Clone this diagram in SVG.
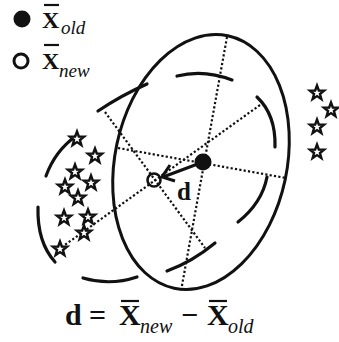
<svg xmlns="http://www.w3.org/2000/svg" xmlns:xlink="http://www.w3.org/1999/xlink" width="339" height="342" viewBox="0 0 339 342">
<style>
.dot{fill:none;stroke:#111;stroke-width:2.2;stroke-dasharray:2.2 2.2}
.arc{fill:none;stroke:#111;stroke-width:3.2;stroke-linecap:round}
.star{fill:#fff;stroke:#111;stroke-width:2.4;stroke-linejoin:miter}
.b{font-family:"Liberation Serif","Times New Roman",serif;font-weight:bold;fill:#111}
.i{font-family:"Liberation Serif","Times New Roman",serif;font-style:italic;fill:#111}
.bar{stroke:#111;stroke-width:2.2}
</style>
<defs>
<path id="st" class="star" d="M0,-7.5 L1.82,-2.51 L7.13,-2.32 L2.95,0.96 L4.41,6.07 L0,3.1 L-4.41,6.07 L-2.95,0.96 L-7.13,-2.32 L-1.82,-2.51 Z"/>
</defs>
<rect width="339" height="342" fill="#fff"/>

<g id="connectors">
<line class="dot" x1="227" y1="37" x2="181" y2="291"/>
<line class="dot" x1="118" y1="148" x2="286" y2="178"/>
<line class="dot" x1="260" y1="105" x2="62" y2="247"/>
<line class="dot" x1="105" y1="112" x2="205" y2="248"/>
</g>

<g id="arcs">
<path class="arc" d="M98,111 Q122,95 147,84"/>
<path class="arc" d="M177,76 Q204,69 232,80"/>
<path class="arc" d="M257,97 Q276,115 275,147"/>
<path class="arc" d="M267,177 Q262,203 238,222"/>
<path class="arc" d="M167,271 Q192,262 215,243"/>
<path class="arc" d="M83,278 Q110,286 137,277"/>
<path class="arc" d="M38,207 Q37,242 55,262"/>
<path class="arc" d="M46,176 Q55,151 76,136"/>
</g>

<g id="ellipse">
<ellipse cx="201" cy="162" rx="86" ry="129" transform="rotate(12 201 162)" fill="none" stroke="#111" stroke-width="3"/>
</g>

<g id="stars-left">
<use xlink:href="#st" x="77" y="139"/>
<use xlink:href="#st" x="95" y="156"/>
<use xlink:href="#st" x="75" y="172"/>
<use xlink:href="#st" x="91" y="183"/>
<use xlink:href="#st" x="65" y="187"/>
<use xlink:href="#st" x="78" y="198"/>
<use xlink:href="#st" x="64" y="218"/>
<use xlink:href="#st" x="88" y="217"/>
<use xlink:href="#st" x="84" y="233"/>
<use xlink:href="#st" x="60" y="249"/>
</g>
<g id="stars-right">
<use xlink:href="#st" x="317" y="93"/>
<use xlink:href="#st" x="331" y="110"/>
<use xlink:href="#st" x="317" y="127"/>
<use xlink:href="#st" x="317" y="152"/>
</g>

<g id="arrow-d">
<line x1="203" y1="162" x2="163" y2="177" stroke="#111" stroke-width="3"/>
<polyline points="170,165 162,177 175,181" fill="none" stroke="#111" stroke-width="3" stroke-linejoin="miter"/>
<text class="b" x="177" y="200" font-size="25">d</text>
</g>

<g id="old-mean"><circle cx="203" cy="162" r="8.5" fill="#111"/></g>
<g id="new-mean"><circle cx="154" cy="180" r="6.5" fill="none" stroke="#111" stroke-width="2.6"/></g>

<g id="legend">
<circle cx="22" cy="19" r="8.5" fill="#111"/>
<text class="b" x="42" y="28" font-size="24">X</text>
<line class="bar" x1="44" y1="5" x2="59" y2="5"/>
<text class="i" x="61" y="34" font-size="19">old</text>
<circle cx="21" cy="61" r="7" fill="none" stroke="#111" stroke-width="3"/>
<text class="b" x="42" y="69" font-size="24">X</text>
<line class="bar" x1="44" y1="45" x2="59" y2="45"/>
<text class="i" x="59" y="77" font-size="19">new</text>
</g>

<g id="formula">
<text class="b" x="65" y="325" font-size="30">d</text>
<text class="b" x="89" y="325" font-size="30">=</text>
<text class="b" x="119" y="325" font-size="30">X</text>
<line class="bar" x1="121" y1="301" x2="139" y2="301" stroke-width="2.6"/>
<text class="i" x="140" y="333" font-size="20">new</text>
<text class="b" x="181" y="325" font-size="30">−</text>
<text class="b" x="207" y="325" font-size="30">X</text>
<line class="bar" x1="209" y1="301" x2="227" y2="301" stroke-width="2.6"/>
<text class="i" x="228" y="333" font-size="20">old</text>
</g>
</svg>
